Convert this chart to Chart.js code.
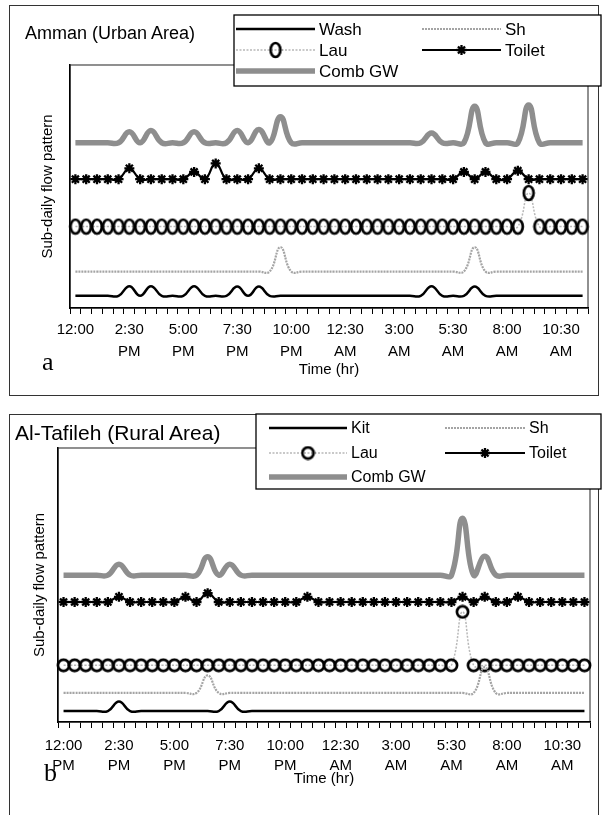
<!DOCTYPE html>
<html>
<head>
<meta charset="utf-8">
<title>Sub-daily flow pattern</title>
<script src="https://cdn.jsdelivr.net/npm/chart.js@4.4.1/dist/chart.umd.min.js"></script>
<style>
  body { margin: 0; background: #fff; font-family: "Liberation Sans", Arial, sans-serif; }
  #page { position: relative; width: 602px; height: 815px; overflow: hidden; }
  .box { position: absolute; border: 1.5px solid #333; }
  #boxA { left: 9px; top: 5px; width: 588px; height: 389px; }
  #boxB { left: 9px; top: 414px; width: 588px; height: 420px; }
  canvas { position: absolute; left: 0; }
  #chartA { top: 0; }
  #chartB { top: 405px; }
  .title { position: absolute; white-space: nowrap; color: #000; line-height: 24px; }
  #titleA { left: 25px; top: 21px; font-size: 18px; }
  #titleB { left: 15px; top: 421px; font-size: 21px; }
  .tag { position: absolute; font-family: "Liberation Serif", "Times New Roman", serif; font-size: 26px; line-height: 26px; }
  #tagA { left: 42px; top: 349px; }
  #tagB { left: 44px; top: 760px; }
</style>
</head>
<body>
<div id="page">
  <div class="box" id="boxA"></div>
  <div class="box" id="boxB"></div>
  <canvas id="chartA" width="602" height="400"></canvas>
  <canvas id="chartB" width="602" height="410"></canvas>
  <div class="title" id="titleA">Amman (Urban Area)</div>
  <div class="title" id="titleB">Al-Tafileh (Rural Area)</div>
  <div class="tag" id="tagA">a</div>
  <div class="tag" id="tagB">b</div>
</div>

<script>
// half hour steps, 12:00 PM to 11:30 AM
const times = ["12:00 PM", "12:30 PM", "1:00 PM", "1:30 PM", "2:00 PM", "2:30 PM", "3:00 PM", "3:30 PM", "4:00 PM", "4:30 PM",
  "5:00 PM", "5:30 PM", "6:00 PM", "6:30 PM", "7:00 PM", "7:30 PM", "8:00 PM", "8:30 PM", "9:00 PM", "9:30 PM",
  "10:00 PM", "10:30 PM", "11:00 PM", "11:30 PM", "12:00 AM", "12:30 AM", "1:00 AM", "1:30 AM", "2:00 AM", "2:30 AM",
  "3:00 AM", "3:30 AM", "4:00 AM", "4:30 AM", "5:00 AM", "5:30 AM", "6:00 AM", "6:30 AM", "7:00 AM", "7:30 AM",
  "8:00 AM", "8:30 AM", "9:00 AM", "9:30 AM", "10:00 AM", "10:30 AM", "11:00 AM", "11:30 AM"];

// tick labels shown every 5th slot
const tickTextA = [["12:00"], ["2:30", "PM"], ["5:00", "PM"], ["7:30", "PM"], ["10:00", "PM"], ["12:30", "AM"], ["3:00", "AM"], ["5:30", "AM"], ["8:00", "AM"], ["10:30", "AM"]];
const tickTextB = [["12:00", "PM"], ["2:30", "PM"], ["5:00", "PM"], ["7:30", "PM"], ["10:00", "PM"], ["12:30", "AM"], ["3:00", "AM"], ["5:30", "AM"], ["8:00", "AM"], ["10:30", "AM"]];

// Amman (urban) - every curve sits on its own level
const washA = [
  5, 5, 5, 5, 5, 9, 5, 9, 5, 5,
  5, 9, 5, 5, 5, 8.8, 5, 8.8, 5, 5,
  5, 5, 5, 5, 5, 5, 5, 5, 5, 5,
  5, 5, 5, 9, 5, 5, 5, 8.8, 5, 5,
  5, 5, 5, 5, 5, 5, 5, 5];
const shA = [
  15, 15, 15, 15, 15, 15, 15, 15, 15, 15,
  15, 15, 15, 15, 15, 15, 15, 15, 15, 25,
  15, 15, 15, 15, 15, 15, 15, 15, 15, 15,
  15, 15, 15, 15, 15, 15, 15, 25, 15, 15,
  15, 15, 15, 15, 15, 15, 15, 15];
const lauA = [
  33.5, 33.5, 33.5, 33.5, 33.5, 33.5, 33.5, 33.5, 33.5, 33.5,
  33.5, 33.5, 33.5, 33.5, 33.5, 33.5, 33.5, 33.5, 33.5, 33.5,
  33.5, 33.5, 33.5, 33.5, 33.5, 33.5, 33.5, 33.5, 33.5, 33.5,
  33.5, 33.5, 33.5, 33.5, 33.5, 33.5, 33.5, 33.5, 33.5, 33.5,
  33.5, 33.5, 47.3, 33.5, 33.5, 33.5, 33.5, 33.5];
const toiletA = [
  53, 53, 53, 53, 53, 57.5, 53, 53, 53, 53,
  53, 56, 53, 59.5, 53, 53, 53, 57.5, 53, 53,
  53, 53, 53, 53, 53, 53, 53, 53, 53, 53,
  53, 53, 53, 53, 53, 53, 56, 53, 56, 53,
  53, 56.5, 53, 53, 53, 53, 53, 53];
const combA = [
  68, 68, 68, 68, 68, 72.5, 68, 73, 68, 68,
  68, 72.5, 68, 68, 68, 73, 68, 73.5, 68, 78.7,
  68, 68, 68, 68, 68, 68, 68, 68, 68, 68,
  68, 68, 68, 72, 68, 68, 68, 83, 68, 68,
  68, 68, 83.5, 68, 68, 68, 68, 68];

// Al-Tafileh (rural)
const kitB = [
  4, 4, 4, 4, 4, 7.5, 4, 4, 4, 4,
  4, 4, 4, 4, 4, 7.5, 4, 4, 4, 4,
  4, 4, 4, 4, 4, 4, 4, 4, 4, 4,
  4, 4, 4, 4, 4, 4, 4, 4, 4, 4,
  4, 4, 4, 4, 4, 4, 4, 4];
const shB = [
  10.6, 10.6, 10.6, 10.6, 10.6, 10.6, 10.6, 10.6, 10.6, 10.6,
  10.6, 10.6, 10.6, 17, 10.6, 10.6, 10.6, 10.6, 10.6, 10.6,
  10.6, 10.6, 10.6, 10.6, 10.6, 10.6, 10.6, 10.6, 10.6, 10.6,
  10.6, 10.6, 10.6, 10.6, 10.6, 10.6, 10.6, 10.6, 20, 10.6,
  10.6, 10.6, 10.6, 10.6, 10.6, 10.6, 10.6, 10.6];
const lauB = [
  20.7, 20.7, 20.7, 20.7, 20.7, 20.7, 20.7, 20.7, 20.7, 20.7,
  20.7, 20.7, 20.7, 20.7, 20.7, 20.7, 20.7, 20.7, 20.7, 20.7,
  20.7, 20.7, 20.7, 20.7, 20.7, 20.7, 20.7, 20.7, 20.7, 20.7,
  20.7, 20.7, 20.7, 20.7, 20.7, 20.7, 40.2, 20.7, 20.7, 20.7,
  20.7, 20.7, 20.7, 20.7, 20.7, 20.7, 20.7, 20.7];
const toiletB = [
  43.8, 43.8, 43.8, 43.8, 43.8, 45.7, 43.8, 43.8, 43.8, 43.8,
  43.8, 45.7, 43.8, 47, 43.8, 43.8, 43.8, 43.8, 43.8, 43.8,
  43.8, 43.8, 45.7, 43.8, 43.8, 43.8, 43.8, 43.8, 43.8, 43.8,
  43.8, 43.8, 43.8, 43.8, 43.8, 43.8, 45.7, 43.8, 45.7, 43.8,
  43.8, 45.7, 43.8, 43.8, 43.8, 43.8, 43.8, 43.8];
const combB = [
  53.6, 53.6, 53.6, 53.6, 53.6, 57.6, 53.6, 53.6, 53.6, 53.6,
  53.6, 53.6, 53.6, 60.3, 53.6, 57.6, 53.6, 53.6, 53.6, 53.6,
  53.6, 53.6, 53.6, 53.6, 53.6, 53.6, 53.6, 53.6, 53.6, 53.6,
  53.6, 53.6, 53.6, 53.6, 53.6, 53.6, 74.4, 53.6, 60.5, 53.6,
  53.6, 53.6, 53.6, 53.6, 53.6, 53.6, 53.6, 53.6];

Chart.defaults.font.family = '"Liberation Sans", Arial, sans-serif';
Chart.defaults.color = '#000';

// hollow circle marker, can be squeezed into an ellipse
function ringMarker(w, h, rx, ry, lw) {
  const c = document.createElement('canvas');
  c.width = w;
  c.height = h;
  const g = c.getContext('2d');
  g.lineWidth = lw;
  g.strokeStyle = '#000';
  g.beginPath();
  g.ellipse(w / 2, h / 2, rx, ry, 0, 0, Math.PI * 2);
  g.stroke();
  return c;
}

function lineSet(label, data, style) {
  return Object.assign({
    label: label,
    data: data,
    fill: false,
    tension: 0.45,
    pointRadius: 0,
    borderColor: '#000',
    borderWidth: 2.5
  }, style);
}

// plot frame drawn before the axes, so left/bottom axes stay black
const plotFrame = {
  id: 'plotFrame',
  beforeDraw(chart) {
    const a = chart.chartArea;
    const ctx = chart.ctx;
    ctx.save();
    ctx.strokeStyle = '#555';
    ctx.lineWidth = 1.3;
    ctx.strokeRect(a.left, a.top, a.right - a.left, a.bottom - a.top);
    ctx.restore();
  }
};

// boxed legend like the excel one
const boxLegend = {
  id: 'boxLegend',
  afterDraw(chart, args, opts) {
    const ctx = chart.ctx;
    const b = opts.box;
    ctx.save();
    ctx.fillStyle = '#fff';
    ctx.fillRect(b[0], b[1], b[2] - b[0], b[3] - b[1]);
    ctx.strokeStyle = '#000';
    ctx.lineWidth = 1.3;
    ctx.strokeRect(b[0], b[1], b[2] - b[0], b[3] - b[1]);

    opts.items.forEach(function (it) {
      const ds = chart.data.datasets[it.ds];
      ctx.save();
      ctx.strokeStyle = ds.borderColor;
      ctx.lineWidth = ds.borderWidth;
      ctx.setLineDash(ds.borderDash || []);
      ctx.beginPath();
      ctx.moveTo(it.x, it.y);
      ctx.lineTo(it.x + it.len, it.y);
      ctx.stroke();
      ctx.restore();

      if (ds.pointRadius > 0) {
        ctx.save();
        ctx.strokeStyle = ds.pointBorderColor;
        ctx.fillStyle = ds.pointBackgroundColor;
        ctx.lineWidth = ds.pointBorderWidth;
        Chart.helpers.drawPoint(ctx, {
          pointStyle: ds.pointStyle,
          radius: ds.pointRadius,
          borderWidth: ds.pointBorderWidth,
          rotation: 0
        }, it.x + it.len / 2, it.y);
        ctx.restore();
      }

      ctx.fillStyle = '#000';
      ctx.font = opts.font;
      ctx.textBaseline = 'middle';
      ctx.fillText(ds.label, it.x + it.len + 4, it.y + 1);
    });
    ctx.restore();
  }
};

function makeChart(id, cfg) {
  return new Chart(document.getElementById(id), {
    type: 'line',
    data: { labels: times, datasets: cfg.datasets },
    options: {
      responsive: false,
      animation: false,
      devicePixelRatio: 1,
      layout: { padding: cfg.padding },
      plugins: {
        legend: { display: false },
        tooltip: { enabled: false },
        boxLegend: cfg.legend
      },
      scales: {
        x: {
          offset: true,
          grid: { display: true, drawOnChartArea: false, drawTicks: true, tickLength: 6, offset: true, color: '#000', lineWidth: 1 },
          border: { display: true, color: '#000', width: 1.5 },
          ticks: {
            autoSkip: false,
            maxRotation: 0,
            padding: cfg.tickPad,
            font: { size: 15, lineHeight: cfg.tickLine },
            callback: function (value, index) {
              if (index % 5 !== 0) return '';
              return cfg.tickText[index / 5];
            }
          },
          title: { display: true, text: 'Time (hr)', font: { size: 15 }, padding: { top: 0, bottom: 0 } },
          afterFit: function (scale) { scale.height = cfg.xHeight; }
        },
        y: {
          min: 0,
          max: 100,
          ticks: { display: false },
          grid: { display: false, drawTicks: false },
          border: { display: true, color: '#000', width: 1.5 },
          title: { display: true, text: 'Sub-daily flow pattern', font: { size: 15 }, padding: { top: cfg.yTitleGap, bottom: 0 } },
          afterFit: function (scale) { scale.width = cfg.yWidth; }
        }
      }
    },
    plugins: [plotFrame, boxLegend]
  });
}

const ellipseA = ringMarker(14, 18, 4.9, 7, 2.7);
const ringB = ringMarker(15, 15, 5.6, 5.6, 2.7);

const shStyle = { borderColor: '#a4a4a4', borderWidth: 2.2, borderDash: [2, 1] };
const lauStyle = { borderColor: '#b8b8b8', borderWidth: 1.5, borderDash: [2, 1.5], pointRadius: 6, pointBorderWidth: 2.4, pointBorderColor: '#000', pointBackgroundColor: 'rgba(0,0,0,0)' };
const toiletStyle = { borderColor: '#000', borderWidth: 2.2, pointStyle: 'star', pointRadius: 5, pointBorderWidth: 2.3, pointBorderColor: '#000', pointBackgroundColor: '#000' };
const combStyle = { borderColor: '#8e8e8e', borderWidth: 5.5 };

makeChart('chartA', {
  datasets: [
    lineSet('Wash', washA, {}),
    lineSet('Sh', shA, shStyle),
    lineSet('Lau', lauA, Object.assign({}, lauStyle, { pointStyle: ellipseA })),
    lineSet('Toilet', toiletA, toiletStyle),
    lineSet('Comb GW', combA, combStyle)
  ],
  padding: { left: 0, top: 65, right: 14, bottom: 21 },
  xHeight: 71,
  yWidth: 70,
  yTitleGap: 39,
  tickPad: 5,
  tickLine: 1.45,
  tickText: tickTextA,
  legend: {
    box: [234, 15, 601, 86],
    font: '17px "Liberation Sans", Arial, sans-serif',
    items: [
      { ds: 0, x: 236, y: 29, len: 79 },
      { ds: 1, x: 422, y: 29, len: 79 },
      { ds: 2, x: 236, y: 50, len: 79 },
      { ds: 3, x: 422, y: 50, len: 79 },
      { ds: 4, x: 236, y: 71, len: 79 }
    ]
  }
});

makeChart('chartB', {
  datasets: [
    lineSet('Kit', kitB, {}),
    lineSet('Sh', shB, shStyle),
    lineSet('Lau', lauB, Object.assign({}, lauStyle, { pointStyle: ringB })),
    lineSet('Toilet', toiletB, toiletStyle),
    lineSet('Comb GW', combB, combStyle)
  ],
  padding: { left: 0, top: 43, right: 12, bottom: 27 },
  xHeight: 66,
  yWidth: 58,
  yTitleGap: 30.5,
  tickPad: 7.5,
  tickLine: 1.33,
  tickText: tickTextB,
  legend: {
    box: [256, 9, 601, 84],
    font: '16px "Liberation Sans", Arial, sans-serif',
    items: [
      { ds: 0, x: 269, y: 23, len: 78 },
      { ds: 1, x: 445, y: 23, len: 80 },
      { ds: 2, x: 269, y: 48, len: 78 },
      { ds: 3, x: 445, y: 48, len: 80 },
      { ds: 4, x: 269, y: 72, len: 78 }
    ]
  }
});
</script>
</body>
</html>
